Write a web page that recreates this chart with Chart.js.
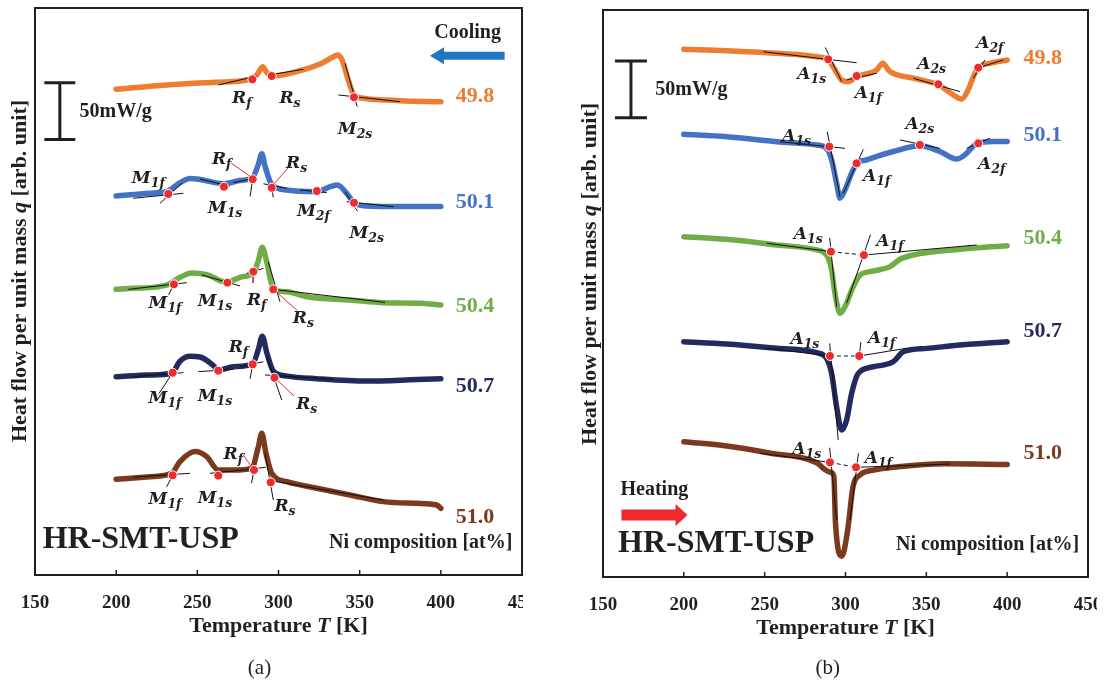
<!DOCTYPE html>
<html>
<head>
<meta charset="utf-8">
<script src="https://cdn.jsdelivr.net/npm/chart.js@4.4.0/dist/chart.umd.min.js"></script>
<style>
  body { margin: 0; background: #fff; width: 1107px; height: 684px; overflow: hidden; position: relative; }
  #chartA { position: absolute; left: 0; top: 0; }
  #chartB { position: absolute; left: 540px; top: 0; }
</style>
</head>
<body>
<canvas id="chartA" width="523" height="684"></canvas>
<canvas id="chartB" width="557" height="684"></canvas>
<script>
const compositions = ['49.8', '50.1', '50.4', '50.7', '51.0'];
const curveColors = ['#ED7D31', '#4472C4', '#70AD47', '#232B5E', '#7B3A1D'];
const tempTicks = [150, 200, 250, 300, 350, 400, 450];

// (a) cooling: temperature [K] and heat flow (offset, mW/g)
const coolT498 = [200, 231, 262, 280.4, 286.6, 290.3, 292.8, 295.8, 313.3, 325.6, 333.8, 336.3, 339, 343, 346.5, 352.3, 374.9, 400];
const coolQ498 = [428.3, 432.1, 434.5, 436.5, 440.9, 448.2, 443, 440, 444.7, 450.6, 457, 458.6, 454.8, 436.5, 423.3, 420.4, 418.3, 417.4];
const coolT501 = [200, 220.9, 231.1, 239.3, 245.5, 251.7, 266, 276.3, 284.1, 287.6, 289.7, 291.7, 295.8, 305.1, 323.6, 331.8, 336.3, 342, 346.5, 354.4, 374.9, 400];
const coolQ501 = [334.2, 336.6, 338, 345.9, 349.7, 348.8, 345, 347.9, 350.9, 362, 371.5, 360.6, 344.4, 339.5, 338, 342.4, 343.9, 336.6, 328.4, 325.4, 324.9, 324.9];
const coolT504 = [200, 210.6, 231.1, 239.3, 246.5, 255.8, 268.1, 276.3, 284.5, 287.6, 290, 292.8, 296.8, 305.1, 317.4, 344.1, 364.6, 387.2, 400];
const coolQ504 = [251.9, 252.8, 255.7, 262.5, 266.4, 264.9, 258.1, 262.5, 266.9, 277.2, 289, 275.8, 251.9, 249.8, 245.4, 242.5, 240.1, 239.6, 238.1];
const coolT507 = [200, 220.9, 234.2, 239.3, 245.5, 251.7, 259.9, 262.9, 272.2, 284.1, 287.6, 290, 292.8, 296.8, 305.1, 323.6, 354.4, 385.2, 400];
const coolQ507 = [174.9, 176.4, 177.9, 188.5, 192.9, 192.3, 184.7, 180.6, 183.6, 186.3, 198.9, 210.6, 196, 179.8, 175.4, 173.1, 171, 172.4, 173.1];
const coolT510 = [200, 220.9, 234.2, 239.3, 248.6, 255.8, 262.9, 272.2, 283.5, 287.6, 289.7, 292.3, 295.8, 305.1, 323.6, 344.1, 364.6, 385.2, 397.5, 400];
const coolQ510 = [84.4, 86.7, 89.7, 100, 108.8, 104.4, 92.6, 92.6, 94.1, 113.1, 124.9, 107.3, 89.7, 82.3, 76.5, 70.6, 64.7, 63.2, 61.7, 58.8];

// (b) heating
const heatT498 = [200, 226.5, 257.4, 282.2, 289.3, 293.5, 297.6, 301.7, 306.9, 319.3, 323, 327.5, 341.9, 357.4, 366.6, 371.8, 374.9, 380.1, 382.1, 389.3, 400];
const heatQ498 = [465.3, 464.1, 461.8, 458.8, 455.9, 447.1, 438.3, 436.8, 441.2, 447.1, 453, 445.7, 439.9, 434, 425.2, 421.4, 426.7, 444.3, 449.3, 453, 455.9];
const heatT501 = [200, 226.5, 257.4, 282.2, 288.3, 291.4, 294.5, 296.6, 299.7, 303.8, 306.9, 313.1, 329.5, 346, 358.4, 368.7, 373.9, 381.1, 391.4, 400];
const heatQ501 = [390.4, 388.3, 383.9, 381, 378.1, 367.9, 347.3, 334.1, 341.4, 356.2, 364.4, 367.9, 375.2, 380.2, 375.2, 368.5, 372.3, 382, 384, 384];
const heatT504 = [200, 226.5, 257.4, 282.2, 288.3, 291.4, 293.5, 296.6, 299.7, 304.8, 309, 315.2, 327.5, 333.7, 341.9, 370.8, 400];
const heatQ504 = [300.1, 297.8, 292.8, 288.4, 284, 270.7, 250.2, 232.6, 238.4, 256.1, 266.4, 269.3, 273.7, 280.2, 284, 289, 292.2];
const heatT507 = [200, 226.5, 257.4, 282.2, 288.3, 291.4, 294.5, 297.6, 300.7, 303.8, 307.9, 317.2, 329.5, 335.7, 350.2, 370.8, 400];
const heatQ507 = [207.5, 205.5, 201.7, 197.8, 192.9, 179.6, 150.2, 129.6, 138.4, 161.9, 179.6, 185.4, 189.8, 198.6, 201.6, 204.5, 207.5];
const heatT510 = [200, 226.5, 252.9, 282.2, 287.3, 290.6, 292.8, 293.8, 297.7, 301.4, 304.6, 308.9, 317.5, 332.6, 360.6, 400];
const heatQ510 = [119.3, 115.5, 109.3, 100.7, 94.8, 92.4, 88.9, 47.9, 18.4, 41.9, 79.4, 89.9, 94.3, 97.2, 99.8, 99.2];

// transformation points: [letter, subscript, T, q, label T, label q]
const coolMarks = [
  ['R', 'f', 283.9, 437.1, 277.4, 421.8], ['R', 's', 295.8, 440, 307.1, 421.8], ['M', '2s', 346.5, 421.3, 347.2, 393.9],
  ['M', '1f', 232.1, 336, 219.8, 351.2], ['M', '1s', 266.4, 342.4, 267.1, 324.8], ['R', 'f', 284.1, 349, 265, 367.5],
  ['R', 's', 295.8, 341.5, 311.2, 364.5], ['M', '2f', 323.6, 338.6, 321.5, 321.9], ['M', '2s', 346.5, 328.3, 354.4, 302.7],
  ['M', '1f', 235.6, 256.3, 230.1, 241], ['M', '1s', 268.5, 257.8, 260.9, 242.5], ['R', 'f', 284.5, 267.5, 286.6, 243.1],
  ['R', 's', 296.8, 251.9, 315.3, 227.8],
  ['M', '1f', 234.8, 178.4, 230.1, 157.2], ['M', '1s', 262.9, 180.2, 260.9, 158.7], ['R', 'f', 284.1, 185.8, 275.3, 201.9],
  ['R', 's', 297.5, 174, 317.4, 151.4],
  ['M', '1f', 234.8, 87.9, 230.1, 67.6], ['M', '1s', 262.9, 87.6, 260.9, 69], ['R', 'f', 284.9, 92.6, 272.2, 107.3],
  ['R', 's', 295.2, 81.7, 304, 61.7]
];
const heatMarks = [
  ['A', '1s', 289.3, 456.5, 279.1, 444.2], ['A', '1f', 306.9, 441.8, 314.1, 428], ['A', '2s', 357.4, 434.5, 353.3, 453],
  ['A', '2f', 382.1, 449.1, 389.3, 472],
  ['A', '1s', 290, 379.5, 269.8, 389.8], ['A', '1f', 306.9, 364.8, 319.3, 354.5], ['A', '2s', 346, 381, 346, 400.1],
  ['A', '2f', 382.1, 382.4, 390.4, 364.8],
  ['A', '1s', 291, 286.9, 277, 303.1], ['A', '1f', 311.4, 283.9, 327.5, 297.2],
  ['A', '1s', 290.4, 194.9, 274.9, 210.5], ['A', '1f', 308.5, 194.9, 322.4, 211.9],
  ['A', '1s', 290.4, 101.1, 276, 113.5], ['A', '1f', 306.5, 96.7, 320.3, 106.1]
];

// tangent construction lines: [T1, q1, T2, q2]
const coolTangents = [
  [262.9, 432.1, 286.6, 440], [297.8, 441.8, 315.3, 446], [341, 451.2, 348.5, 413], [336.9, 423.3, 374.9, 417.4],
  [210.5, 332.2, 241.4, 336.6], [227, 327.8, 240.4, 345.4], [251.7, 349.1, 270, 343], [272.2, 346, 286.6, 350.4],
  [284.1, 349, 282.5, 333.8], [295.8, 341.5, 296.8, 333],
  [290.7, 345, 305.1, 341], [313.3, 339.5, 329.7, 337.2], [341, 338, 348.6, 321], [342, 329.2, 370.8, 324.8],
  [207.5, 251.9, 243.5, 257.8], [232.3, 247, 236.5, 259], [252.7, 264.6, 276.3, 254.9], [280.4, 266, 290.7, 270.4],
  [293.7, 276.3, 300.9, 241], [296.8, 251.9, 365.7, 240.4],
  [210.6, 174.9, 241.4, 178.4], [226.4, 160, 236, 181], [250.6, 179.3, 272.2, 181.4], [276.3, 183.7, 290.7, 188.1],
  [284.1, 185.8, 282.5, 173], [292.8, 192.5, 302, 154.3], [291.7, 176.4, 333.8, 172.6],
  [210.6, 86.2, 245.5, 89.7], [231.1, 77.8, 236, 91], [257.8, 89.7, 278.3, 92.6], [278.3, 92.6, 292.1, 95],
  [284.9, 92.6, 283.4, 81], [291.7, 107.3, 296.8, 66.1], [292.8, 83.8, 364.6, 66.1]
];
const coolLeaders = [
  [270.8, 363.3, 282.6, 351.4], [296, 343, 305.9, 358.9], [296.8, 251.9, 311.4, 233.5], [284.5, 267.5, 284.3, 257.6],
  [297.5, 174, 309.6, 157.9], [278.3, 105.8, 284.5, 93.2]
];
const heatTangents = [
  [249.1, 463.2, 306.9, 453.5], [287.5, 467, 297.6, 436.8], [300.7, 438.3, 319.3, 444.2], [341.9, 439.8, 370.8, 428],
  [379, 439.8, 386.2, 455.9], [382.1, 449.1, 397.6, 455.9],
  [259.5, 383.9, 299.7, 378], [288.7, 392.7, 296.6, 335.4], [298.6, 338.4, 311, 377], [333.7, 385.4, 358.4, 378],
  [374.9, 378, 389.3, 386.9],
  [251.2, 294.3, 291.4, 286.9], [290.2, 299, 294.5, 238.4], [300.7, 241.4, 315.5, 302], [311.4, 283.9, 381.1, 292.8],
  [251.2, 201.7, 290.4, 194.9], [290.2, 206, 295.5, 120.8], [308.5, 194.9, 337.8, 201.7], [308.5, 194.9, 309.5, 207],
  [247.1, 109.1, 290.4, 101.1], [306.5, 96.7, 364.6, 99.6], [290.2, 114, 294.5, 50.3], [308, 109, 302.8, 50.3]
];
const heatDashes = [[291, 286.9, 311.4, 283.9], [290.4, 194.9, 308.5, 194.9], [290.4, 101.1, 306.5, 96.7]];

const INK = '#231F20';
const SERIF = '"Liberation Serif", "Times New Roman", serif';

function segs(list) {
  const out = [];
  list.forEach(s => out.push({ x: s[0], y: s[1] }, { x: s[2], y: s[3] }, { x: s[2], y: null }));
  return out;
}

function buildDatasets(temps, qs, marks, tangents, leaders, dashes) {
  const sets = [
    { label: 'marks', data: marks.map(m => ({ x: m[2], y: m[3] })), showLine: false, pointRadius: 4.5,
      pointBackgroundColor: '#EE2B2F', pointBorderColor: '#ffffff', pointBorderWidth: 1, order: 0 },
    { label: 'leaders', data: segs(leaders), borderColor: '#EE2B2F', borderWidth: 1, pointRadius: 0, order: 1 },
    { label: 'tangents', data: segs(tangents), borderColor: '#111111', borderWidth: 1, pointRadius: 0, order: 2 },
    { label: 'dashes', data: segs(dashes), borderColor: '#111111', borderWidth: 1, borderDash: [4, 3], pointRadius: 0, order: 3 }
  ];
  temps.forEach((t, i) => {
    sets.push({
      label: compositions[i],
      data: t.map((v, j) => ({ x: v, y: qs[i][j] })),
      borderColor: curveColors[i], borderWidth: 5.5, pointRadius: 0,
      cubicInterpolationMode: 'monotone', borderCapStyle: 'round', borderJoinStyle: 'round',
      order: 4 + i
    });
  });
  return sets;
}

function drawMarkLabel(ctx, x, y, letter, sub) {
  ctx.fillStyle = INK;
  ctx.textAlign = 'left';
  ctx.textBaseline = 'alphabetic';
  ctx.font = 'italic bold 17px "DejaVu Serif"';
  const w1 = ctx.measureText(letter).width;
  ctx.font = 'italic bold 12.5px "DejaVu Serif"';
  const w2 = ctx.measureText(sub).width;
  const left = x - (w1 + w2) / 2;
  ctx.font = 'italic bold 17px "DejaVu Serif"';
  ctx.fillText(letter, left, y + 6);
  ctx.font = 'italic bold 12.5px "DejaVu Serif"';
  ctx.fillText(sub, left + w1, y + 10);
}

function drawArrow(ctx, x1, x2, y, shaft, head, headLen, color, left) {
  ctx.fillStyle = color;
  ctx.beginPath();
  if (left) {
    ctx.moveTo(x1, y);
    ctx.lineTo(x1 + headLen, y - head / 2);
    ctx.lineTo(x1 + headLen, y - shaft / 2);
    ctx.lineTo(x2, y - shaft / 2);
    ctx.lineTo(x2, y + shaft / 2);
    ctx.lineTo(x1 + headLen, y + shaft / 2);
    ctx.lineTo(x1 + headLen, y + head / 2);
  } else {
    ctx.moveTo(x2, y);
    ctx.lineTo(x2 - headLen, y - head / 2);
    ctx.lineTo(x2 - headLen, y - shaft / 2);
    ctx.lineTo(x1, y - shaft / 2);
    ctx.lineTo(x1, y + shaft / 2);
    ctx.lineTo(x2 - headLen, y + shaft / 2);
    ctx.lineTo(x2 - headLen, y + head / 2);
  }
  ctx.closePath();
  ctx.fill();
}

function mixedText(ctx, parts, x, y, size) {
  // parts: [text, italic]
  let total = 0;
  parts.forEach(p => {
    ctx.font = (p[1] ? 'italic ' : '') + 'bold ' + size + 'px ' + SERIF;
    total += ctx.measureText(p[0]).width;
  });
  let cx = x - total / 2;
  ctx.textAlign = 'left';
  ctx.textBaseline = 'middle';
  parts.forEach(p => {
    ctx.font = (p[1] ? 'italic ' : '') + 'bold ' + size + 'px ' + SERIF;
    ctx.fillText(p[0], cx, y);
    cx += ctx.measureText(p[0]).width;
  });
}

const decorPlugin = {
  id: 'decor',
  afterDraw(chart, args, o) {
    const ctx = chart.ctx;
    const xs = chart.scales.x, ys = chart.scales.y;
    const a = chart.chartArea;
    const X = t => xs.getPixelForValue(t), Y = q => ys.getPixelForValue(q);
    ctx.save();

    // frame and inward ticks
    ctx.strokeStyle = INK;
    ctx.lineWidth = 2;
    ctx.strokeRect(a.left, a.top, a.right - a.left, a.bottom - a.top);
    ctx.lineWidth = 1.5;
    tempTicks.slice(1, -1).forEach(t => {
      ctx.beginPath();
      ctx.moveTo(X(t), a.bottom);
      ctx.lineTo(X(t), a.bottom - 5);
      ctx.stroke();
    });

    // scale bar
    const b = o.bar;
    ctx.lineWidth = 3;
    ctx.beginPath();
    ctx.moveTo(X(b.t) - b.half, Y(b.q1)); ctx.lineTo(X(b.t) + b.half, Y(b.q1));
    ctx.moveTo(X(b.t), Y(b.q1)); ctx.lineTo(X(b.t), Y(b.q0));
    ctx.moveTo(X(b.t) - b.half, Y(b.q0)); ctx.lineTo(X(b.t) + b.half, Y(b.q0));
    ctx.stroke();
    ctx.fillStyle = INK;
    ctx.font = 'bold 20px ' + SERIF;
    ctx.textAlign = 'left';
    ctx.textBaseline = 'middle';
    ctx.fillText('50mW/g', X(b.textT), Y(b.textQ));

    // direction arrow
    const ar = o.arrow;
    drawArrow(ctx, X(ar.t1), X(ar.t2), Y(ar.q), ar.shaft, ar.head, ar.headLen, ar.color, ar.left);
    ctx.fillStyle = INK;
    ctx.font = 'bold 20px ' + SERIF;
    ctx.textAlign = 'center';
    ctx.fillText(ar.text, X(ar.textT), Y(ar.textQ));

    // composition labels
    ctx.font = 'bold 22px ' + SERIF;
    compositions.forEach((c, i) => {
      ctx.fillStyle = curveColors[i];
      ctx.fillText(c, X(o.compT), Y(o.compQ[i]));
    });

    // transformation labels
    o.marks.forEach(m => drawMarkLabel(ctx, X(m[4]), Y(m[5]), m[0], m[1]));

    // sample name and legend title
    ctx.fillStyle = INK;
    ctx.font = 'bold 32px ' + SERIF;
    ctx.textAlign = 'left';
    ctx.fillText('HR-SMT-USP', X(o.nameT), Y(o.nameQ));
    ctx.font = 'bold 20px ' + SERIF;
    ctx.textAlign = 'right';
    ctx.fillText('Ni composition [at%]', X(o.niT), Y(o.niQ));

    // axis titles
    mixedText(ctx, [['Temperature ', false], ['T', true], [' [K]', false]], X(300), a.bottom + 51, 22);
    ctx.font = '21px ' + SERIF;
    ctx.textAlign = 'center';
    ctx.fillText(o.letter, X(o.letterT), a.bottom + o.letterDy);
    ctx.translate(a.left - o.yTitleDx, o.yTitleY);
    ctx.rotate(-Math.PI / 2);
    mixedText(ctx, [['Heat flow per unit mass ', false], ['q', true], [' [arb. unit]', false]], 0, 0, 22);
    ctx.restore();
  }
};

function makePanel(id, temps, qs, marks, tangents, leaders, dashes, pad, axisH, decor) {
  return new Chart(document.getElementById(id), {
    type: 'line',
    data: { datasets: buildDatasets(temps, qs, marks, tangents, leaders, dashes) },
    options: {
      responsive: false,
      animation: false,
      events: [],
      layout: { padding: pad, autoPadding: false },
      plugins: { legend: { display: false }, tooltip: { enabled: false }, decor: decor },
      scales: {
        x: {
          type: 'linear', min: 150, max: 450,
          afterBuildTicks: s => { s.ticks = tempTicks.map(v => ({ value: v })); },
          afterFit: s => { s.height = axisH; s.paddingLeft = 0; s.paddingRight = 0; },
          grid: { display: false, drawTicks: false },
          border: { display: false },
          ticks: { color: INK, padding: 17, maxRotation: 0, autoSkip: false, font: { family: SERIF, size: 19, weight: 'bold' } }
        },
        y: { type: 'linear', min: 0, max: 500, display: false }
      }
    },
    plugins: [decorPlugin]
  });
}

makePanel('chartA',
  [coolT498, coolT501, coolT504, coolT507, coolT510],
  [coolQ498, coolQ501, coolQ504, coolQ507, coolQ510],
  coolMarks, coolTangents, coolLeaders, [],
  { left: 35, right: 1, top: 8, bottom: 0 }, 109,
  {
    bar: { t: 165.3, q0: 384, q1: 434, half: 15.5, textT: 177.4, textQ: 408.2 },
    arrow: { t1: 393.3, t2: 439.3, q: 457.9, shaft: 8, head: 17, headLen: 14, color: '#2176C1', left: true,
      text: 'Cooling', textT: 416.5, textQ: 478 },
    compT: 421, compQ: [421.8, 328.3, 237.2, 166, 50.5],
    marks: coolMarks,
    nameT: 154.7, nameQ: 23.8, niT: 444.1, niQ: 23.8,
    letter: '(a)', letterT: 288.3, letterDy: 93,
    yTitleDx: 15, yTitleY: 271
  });

makePanel('chartB',
  [heatT498, heatT501, heatT504, heatT507, heatT510],
  [heatQ498, heatQ501, heatQ504, heatQ507, heatQ510],
  heatMarks, heatTangents, [], heatDashes,
  { left: 63, right: 9, top: 10, bottom: 0 }, 107,
  {
    bar: { t: 167.3, q0: 405, q1: 455, half: 16, textT: 182.3, textQ: 429.5 },
    arrow: { t1: 161.4, t2: 202.3, q: 54.7, shaft: 11, head: 22, headLen: 12, color: '#EE2A2E', left: false,
      text: 'Heating', textT: 181.8, textQ: 77.3 },
    compT: 422, compQ: [457.4, 389.8, 298.7, 216.3, 109.1],
    marks: heatMarks,
    nameT: 159.3, nameQ: 22.3, niT: 444.6, niQ: 23.8,
    letter: '(b)', letterT: 289, letterDy: 91,
    yTitleDx: 13, yTitleY: 274
  });
</script>
</body>
</html>
